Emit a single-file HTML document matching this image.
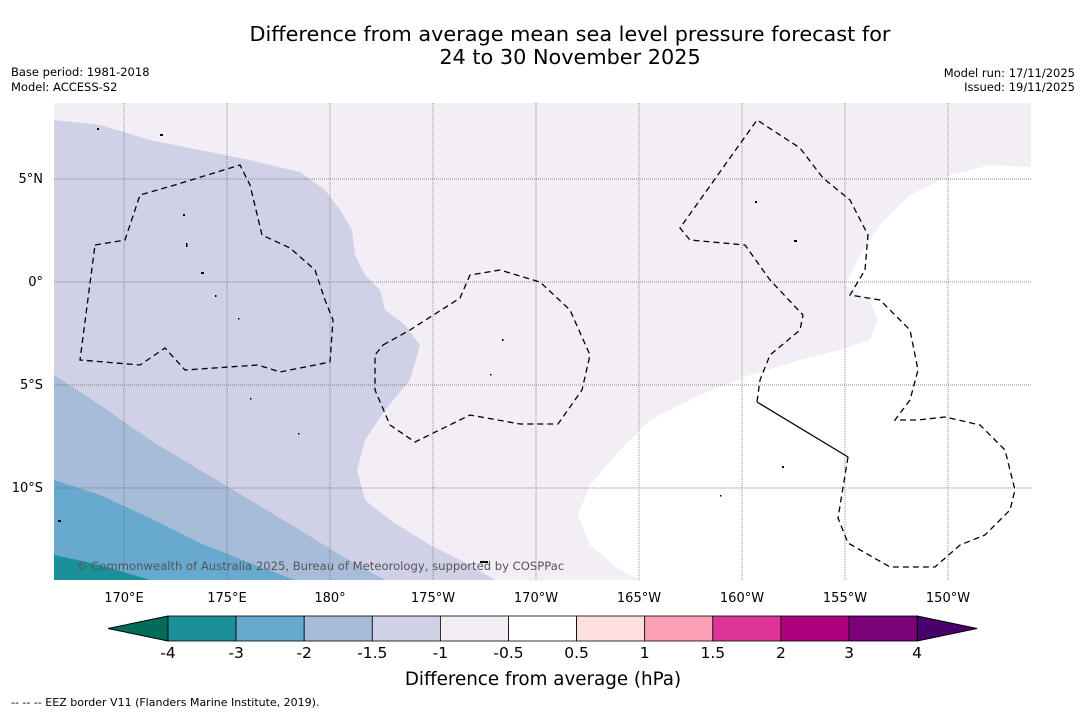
<!DOCTYPE html>
<html><head><meta charset="utf-8"><style>
body{margin:0;background:#fff;font-family:"DejaVu Sans","Liberation Sans",sans-serif;}
svg{display:block}
</style></head><body>
<svg width="1085" height="713" xmlns="http://www.w3.org/2000/svg">
<text x="570" y="41" font-size="20.8" text-anchor="middle">Difference from average mean sea level pressure forecast for</text>
<text x="570" y="64" font-size="20.8" text-anchor="middle">24 to 30 November 2025</text>
<text x="11" y="76" font-size="11.5">Base period: 1981-2018</text>
<text x="11" y="91" font-size="11.5">Model: ACCESS-S2</text>
<text x="1075" y="77" font-size="11.5" text-anchor="end">Model run: 17/11/2025</text>
<text x="1075" y="91" font-size="11.5" text-anchor="end">Issued: 19/11/2025</text>
<defs><clipPath id="mc"><rect x="54" y="103" width="977" height="477"/></clipPath></defs>
<g clip-path="url(#mc)">
<rect x="54" y="103" width="977" height="477" fill="#f3edf5"/>
<path d="M54,120 L100,125 150,140 200,150 250,160 300,172 325,190 340,210 352,230 355,255 365,275 380,290 385,310 405,325 420,345 410,380 385,410 365,440 357,470 365,500 390,520 430,545 470,565 495,580 54,580Z" fill="#d0d1e6"/>
<path d="M54,375 L100,405 150,440 200,470 250,500 300,530 340,555 385,580 54,580Z" fill="#a6bcd9"/>
<path d="M54,480 L100,495 150,518 200,543 250,563 295,580 54,580Z" fill="#67a9cf"/>
<path d="M54,555 L100,565 150,580 54,580Z" fill="#1c9099"/>
<path d="M1031,167 L990,165 950,175 910,195 880,225 860,255 845,285 870,300 878,320 870,340 840,350 800,360 750,375 700,395 650,420 620,450 590,485 578,515 590,545 620,570 640,580 1031,580Z" fill="#fff"/>
<g stroke="#666" stroke-width="0.7" stroke-dasharray="1,1">
<line x1="124" y1="103" x2="124" y2="580"/><line x1="227" y1="103" x2="227" y2="580"/><line x1="330" y1="103" x2="330" y2="580"/><line x1="433" y1="103" x2="433" y2="580"/><line x1="536" y1="103" x2="536" y2="580"/><line x1="639" y1="103" x2="639" y2="580"/><line x1="742" y1="103" x2="742" y2="580"/><line x1="845" y1="103" x2="845" y2="580"/><line x1="948" y1="103" x2="948" y2="580"/>
<line x1="54" y1="179" x2="1031" y2="179"/><line x1="54" y1="282" x2="1031" y2="282"/><line x1="54" y1="385" x2="1031" y2="385"/><line x1="54" y1="488" x2="1031" y2="488"/>
</g>
<g fill="none" stroke="#000" stroke-width="1.3" stroke-dasharray="6,4">
<path d="M95,245 L125,240 140,195 175,185 240,165 250,185 262,235 290,248 315,270 325,300 333,320 330,362 280,372 258,365 185,370 165,348 140,365 80,360Z"/>
<path d="M383,345 L410,330 460,298 470,275 500,270 540,282 570,310 590,355 582,390 558,424 520,424 470,415 415,442 390,425 375,390 375,355Z"/>
<path d="M848,457 L838,518 848,543 890,567 935,567 960,545 985,535 1010,510 1015,490 1005,450 980,425 945,417 918,420 895,420 910,400 918,370 910,330 880,300 850,295 865,270 868,235 850,200 823,178 800,148 757,120 680,228 690,240 745,245 770,280 803,315 800,330 770,355 760,380 757,402"/>
</g>
<path d="M757,402 L848,457" stroke="#000" stroke-width="1.3" fill="none"/>
<g fill="#000">
<rect x="183" y="214" width="2" height="2"/><rect x="186" y="243" width="1.5" height="4"/><rect x="201" y="272" width="3" height="2"/><rect x="215" y="295" width="1.5" height="2"/><rect x="238" y="318" width="1.5" height="1.5"/><rect x="250" y="398" width="1.5" height="1.5"/><rect x="298" y="433" width="1.5" height="1.5"/><rect x="502" y="339" width="1.5" height="2"/><rect x="490" y="374" width="1.5" height="1.5"/><rect x="755" y="201" width="2" height="2"/><rect x="794" y="240" width="3" height="2"/><rect x="782" y="466" width="2" height="2"/><rect x="720" y="495" width="1.5" height="1.5"/><rect x="58" y="520" width="3" height="2"/><rect x="480" y="561" width="8" height="2"/><rect x="160" y="134" width="3" height="2"/><rect x="97" y="128" width="2" height="2"/>
</g>
<text x="76" y="570" font-size="11.6" fill="#555">© Commonwealth of Australia 2025, Bureau of Meteorology, supported by COSPPac</text>
</g>
<g font-size="13" fill="#000">
<text x="43" y="183" text-anchor="end">5°N</text><text x="43" y="286" text-anchor="end">0°</text><text x="43" y="389" text-anchor="end">5°S</text><text x="43" y="492" text-anchor="end">10°S</text>
</g>
<g font-size="13" fill="#000" text-anchor="middle">
<text x="124" y="602">170°E</text><text x="227" y="602">175°E</text><text x="330" y="602">180°</text><text x="433" y="602">175°W</text><text x="536" y="602">170°W</text><text x="639" y="602">165°W</text><text x="742" y="602">160°W</text><text x="845" y="602">155°W</text><text x="948" y="602">150°W</text>
</g>
<g id="cb"></g>
<text x="543" y="685" font-size="18.3" text-anchor="middle">Difference from average (hPa)</text>
<text x="11" y="706" font-size="11">--  --  -- EEZ border V11 (Flanders Marine Institute, 2019).</text>
</svg>
<script>
const levels=["-4","-3","-2","-1.5","-1","-0.5","0.5","1","1.5","2","3","4"];
const colors=["#1c9099","#67a9cf","#a6bcd9","#d0d1e6","#f3edf5","#ffffff","#fde0dd","#fa9fb5","#dd3497","#ae017e","#7a0177"];
const under="#016c59", over="#49006a";
const NS="http://www.w3.org/2000/svg", cb=document.getElementById('cb');
const x0=168,w=68.1,y0=616,h=25;
function mk(t,a){const e=document.createElementNS(NS,t);for(const k in a)e.setAttribute(k,a[k]);cb.appendChild(e);return e;}
let p=mk('polygon',{points:`108,${y0+h/2} ${x0},${y0} ${x0},${y0+h}`,fill:under,stroke:'#000','stroke-width':1});


const xe=x0+w*colors.length;
p=mk('polygon',{points:`${xe},${y0} ${xe+60},${y0+h/2} ${xe},${y0+h}`,fill:over,stroke:'#000','stroke-width':1});


colors.forEach((c,i)=>{const r=mk('rect',{x:x0+i*w,y:y0,width:w,height:h,fill:c,stroke:'#000','stroke-width':0.8});

});
levels.forEach((l,i)=>{const t=mk('text',{x:x0+i*w,y:658,'font-size':15.5,'text-anchor':'middle'});t.textContent=l;

});
</script>
</body></html>
